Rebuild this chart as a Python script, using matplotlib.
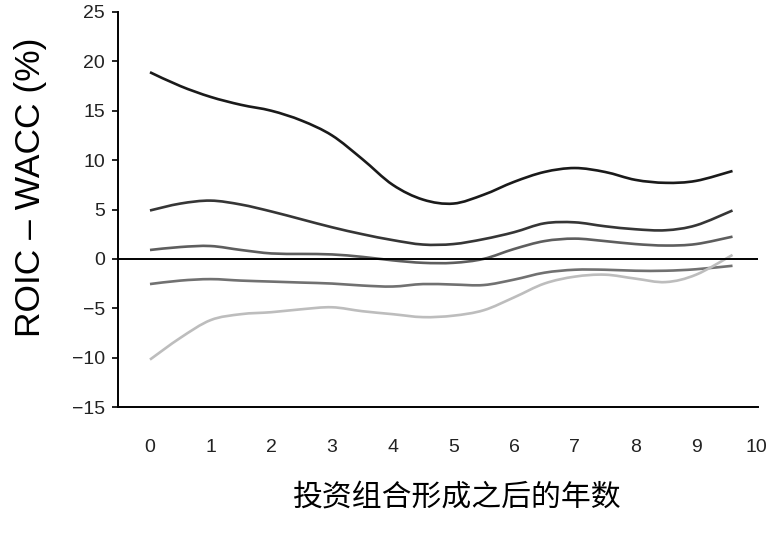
import numpy as np
import matplotlib.pyplot as plt
from matplotlib.path import Path
from matplotlib.patches import PathPatch

# years after portfolio formation
years = [0, 0.5, 1, 1.5, 2, 2.5, 3, 3.5, 4, 4.5, 5, 5.5, 6, 6.5, 7, 7.5, 8, 8.5, 9, 9.6]

line1 = [18.9, 17.5, 16.4, 15.6, 15.0, 14.0, 12.5, 10.1, 7.5, 6.0, 5.6, 6.5, 7.8, 8.8, 9.2, 8.8, 8.0, 7.7, 7.9, 8.9]
line2 = [4.9, 5.6, 5.9, 5.5, 4.8, 4.0, 3.2, 2.5, 1.9, 1.45, 1.5, 2.0, 2.7, 3.6, 3.7, 3.3, 3.0, 2.9, 3.4, 4.9]
line3 = [0.9, 1.2, 1.3, 0.9, 0.55, 0.5, 0.45, 0.2, -0.15, -0.4, -0.4, 0.0, 1.0, 1.8, 2.05, 1.8, 1.5, 1.35, 1.5, 2.25]
line4 = [-2.55, -2.2, -2.05, -2.2, -2.3, -2.4, -2.5, -2.7, -2.8, -2.55, -2.6, -2.65, -2.1, -1.4, -1.1, -1.1, -1.2, -1.2, -1.05, -0.7]
line5 = [-10.2, -8.0, -6.2, -5.6, -5.4, -5.1, -4.9, -5.3, -5.6, -5.9, -5.75, -5.2, -3.9, -2.5, -1.8, -1.6, -2.0, -2.35, -1.6, 0.4]

series = [line1, line2, line3, line4, line5]
colors = ['#1a1a1a', '#363636', '#5e5e5e', '#717171', '#bdbdbd']

xticks = list(range(0, 11))
yticks = [-15, -10, -5, 0, 5, 10, 15, 20, 25]


def smooth_path(xs, ys):
    # Catmull-Rom through the read points, drawn as cubic Bezier segments
    pts = np.column_stack([xs, ys]).astype(float)
    ext = np.vstack([pts[0], pts, pts[-1]])
    verts = [pts[0]]
    codes = [Path.MOVETO]
    for i in range(1, len(ext) - 2):
        p0, p1, p2, p3 = ext[i - 1], ext[i], ext[i + 1], ext[i + 2]
        verts += [p1 + (p2 - p0) / 6, p2 - (p3 - p1) / 6, p2]
        codes += [Path.CURVE4] * 3
    return Path(verts, codes)


fig = plt.figure(figsize=(7.68, 5.33), dpi=100)
ax = fig.add_axes([118 / 768, 1 - 407 / 533, 640 / 768, 395 / 533])

for ys, c in zip(series, colors):
    ax.add_patch(PathPatch(smooth_path(years, ys), facecolor='none',
                           edgecolor=c, linewidth=1.9, capstyle='butt'))

ax.axhline(0, color='black', linewidth=1.4, zorder=1)

ax.set_xlim(-0.527, 10.02)
ax.set_ylim(-15, 25)
ax.set_xticks(xticks)
ax.set_yticks(yticks)

for s in ['top', 'right']:
    ax.spines[s].set_visible(False)
for s in ['left', 'bottom']:
    ax.spines[s].set_linewidth(1.4)

ax.tick_params(axis='x', length=0, pad=23, labelsize=14, labelcolor='#222222')
ax.tick_params(axis='y', length=4.5, width=1.2, pad=5, labelsize=14, labelcolor='#222222')
for lab in ax.get_xticklabels() + ax.get_yticklabels():
    lab.set_family('Liberation Sans')

fig.text(31 / 768, 1 - 187 / 533, 'ROIC – WACC (%)', rotation=90,
         ha='center', va='center', fontsize=25.5, family='Liberation Sans')
fig.text(457 / 768, 1 - 497 / 533, '投资组合形成之后的年数',
         ha='center', va='center', fontsize=21.5, fontweight='medium',
         family=['Noto Sans CJK SC', 'DejaVu Sans'])

fig.savefig('out.png', dpi=100)
